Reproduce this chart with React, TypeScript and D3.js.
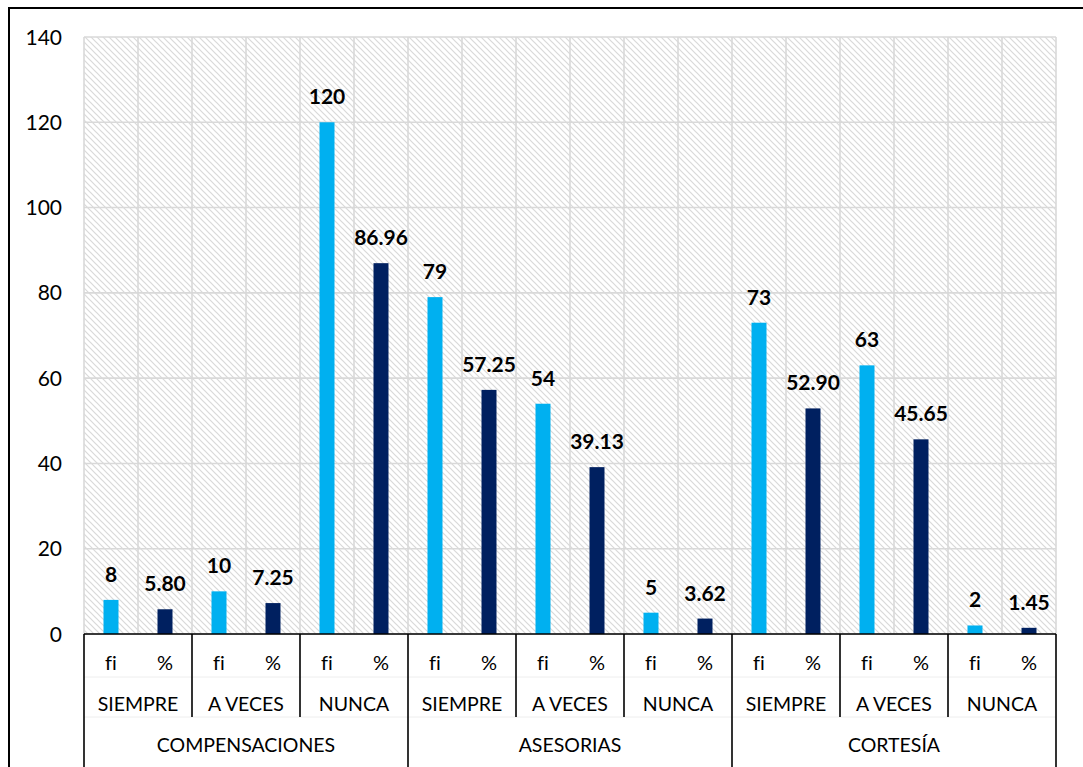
import React from "react";
import * as d3 from "d3";

// Grouped survey results: three dimensions, three answer levels, frequency and percentage
const dimensions = ["COMPENSACIONES", "ASESORIAS", "CORTESÍA"];
const answers = ["SIEMPRE", "A VECES", "NUNCA"];
const measures = ["fi", "%"];
const fiValues = [8, 10, 120, 79, 54, 5, 73, 63, 2];
const pctValues = [5.8, 7.25, 86.96, 57.25, 39.13, 3.62, 52.9, 45.65, 1.45];
const yTicks = [0, 20, 40, 60, 80, 100, 120, 140];

const W = 1083;
const H = 767;
const left = 84;
const right = 1056;
const top = 37;
const bottom = 634;
const font = "Lato, 'Open Sans', sans-serif";
const noLig = { fontVariantLigatures: "none" as const };
const colors: Record<string, string> = { fi: "#00B0F0", "%": "#002060" };

type Leaf = { key: string; dim: string; ans: string; m: string; value: number; label: string };

const leaves: Leaf[] = [];
dimensions.forEach((dim, di) => {
  answers.forEach((ans, ai) => {
    const idx = di * answers.length + ai;
    measures.forEach((m) => {
      const value = m === "fi" ? fiValues[idx] : pctValues[idx];
      leaves.push({
        key: `${dim}|${ans}|${m}`,
        dim,
        ans,
        m,
        value,
        label: m === "fi" ? d3.format("d")(value) : d3.format(".2f")(value),
      });
    });
  });
});

export default function App() {
  const x = d3.scaleBand<string>().domain(leaves.map((l) => l.key)).range([left, right]).padding(0);
  const y = d3.scaleLinear().domain([0, 140]).range([bottom, top]);
  const bw = x.bandwidth();
  const barW = 15;

  const pairSize = measures.length;
  const groupSize = answers.length * measures.length;
  const row1 = 677;
  const row2 = 717;

  return (
    <svg width={W} height={H} style={{ display: "block", position: "absolute", left: 0, top: 0 }}>
      <defs>
        <pattern id="hatch" width="6" height="6" patternUnits="userSpaceOnUse">
          <rect width="6" height="6" fill="#ffffff" />
          <path d="M-1,-1 L7,7 M-1,5 L1,7 M5,-1 L7,1" stroke="#d9d9d9" strokeWidth="1.2" />
        </pattern>
      </defs>
      <rect x={0} y={0} width={W} height={H} fill="#ffffff" />
      <rect x={9} y={8} width={W + 20} height={H + 20} fill="none" stroke="#000" strokeWidth={2} />

      {/* plot area */}
      <rect x={left} y={top} width={right - left} height={bottom - top} fill="url(#hatch)" />
      {yTicks.map((t) => (
        <line key={`h${t}`} x1={left} x2={right} y1={y(t)} y2={y(t)} stroke="#d9d9d9" strokeWidth={1.6} />
      ))}
      {d3.range(leaves.length + 1).map((i) => {
        const xx = i < leaves.length ? (x(leaves[i].key) as number) : right;
        return <line key={`v${i}`} x1={xx} x2={xx} y1={top} y2={bottom} stroke="#d9d9d9" strokeWidth={1.6} />;
      })}

      {/* y-axis labels */}
      {yTicks.map((t) => (
        <text
          key={`yl${t}`}
          x={62}
          y={y(t)}
          dy="0.36em"
          textAnchor="end"
          fontFamily={font}
          fontSize={21}
          fill="#000"
        >
          {t}
        </text>
      ))}

      {/* bars with value labels */}
      {leaves.map((l) => {
        const cx = (x(l.key) as number) + bw / 2;
        return (
          <g key={l.key}>
            <rect x={cx - barW / 2} y={y(l.value)} width={barW} height={bottom - y(l.value)} fill={colors[l.m]} />
            <text
              x={cx}
              y={y(l.value) - 18}
              textAnchor="middle"
              fontFamily={font}
              fontWeight="bold"
              fontSize={21}
              fill="#000"
            >
              {l.label}
            </text>
          </g>
        );
      })}

      {/* multi-level category axis */}
      <line x1={left} x2={right} y1={row1} y2={row1} stroke="#eeeeee" strokeWidth={1} />
      <line x1={left} x2={right} y1={row2} y2={row2} stroke="#eeeeee" strokeWidth={1} />
      <line x1={left} x2={right} y1={bottom} y2={bottom} stroke="#000" strokeWidth={1.6} />
      {d3.range(0, leaves.length + 1, pairSize).map((i) => {
        const xx = i < leaves.length ? (x(leaves[i].key) as number) : right;
        const isGroup = i % groupSize === 0;
        return (
          <line
            key={`t${i}`}
            x1={xx}
            x2={xx}
            y1={bottom}
            y2={isGroup ? H : row2}
            stroke="#000"
            strokeWidth={1.6}
          />
        );
      })}
      {leaves.map((l) => (
        <text
          key={`m${l.key}`}
          x={(x(l.key) as number) + bw / 2}
          y={663}
          dy="0.35em"
          textAnchor="middle"
          fontFamily={font}
          fontSize={20}
          fill="#000"
          style={noLig}
        >
          {l.m}
        </text>
      ))}
      {d3.range(0, leaves.length, pairSize).map((i) => {
        const x0 = x(leaves[i].key) as number;
        return (
          <text
            key={`a${i}`}
            x={x0 + (bw * pairSize) / 2}
            y={704}
            dy="0.35em"
            textAnchor="middle"
            fontFamily={font}
            fontSize={19.5}
            fill="#000"
          >
            {leaves[i].ans}
          </text>
        );
      })}
      {d3.range(0, leaves.length, groupSize).map((i) => {
        const x0 = x(leaves[i].key) as number;
        return (
          <text
            key={`d${i}`}
            x={x0 + (bw * groupSize) / 2}
            y={745}
            dy="0.35em"
            textAnchor="middle"
            fontFamily={font}
            fontSize={19.5}
            fill="#000"
          >
            {leaves[i].dim}
          </text>
        );
      })}
    </svg>
  );
}
